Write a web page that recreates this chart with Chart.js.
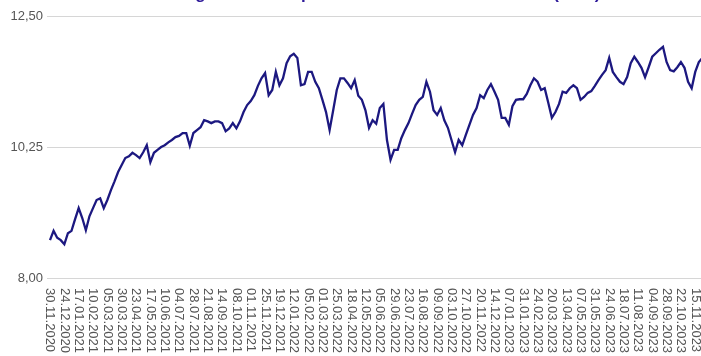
<!DOCTYPE html>
<html>
<head>
<meta charset="utf-8">
<script src="https://cdn.jsdelivr.net/npm/chart.js"></script>
<style>
  html, body { margin: 0; padding: 0; background: #fff; overflow: hidden; }
  #wrap { position: absolute; left: 0; top: -16px; width: 706px; height: 390px; }
</style>
</head>
<body>
<div id="wrap"><canvas id="myChart"></canvas></div>
<script>
// Anteilspreis (EUR), one value every 6 days from 30.11.2020
const prices = [
  8.65, 8.81, 8.69, 8.65, 8.58, 8.77, 8.81, 9.01, 9.20, 9.03,
  8.82, 9.06, 9.20, 9.34, 9.37, 9.20, 9.34, 9.51, 9.66, 9.82,
  9.94, 10.06, 10.09, 10.15, 10.11, 10.06, 10.16, 10.28, 9.99, 10.15,
  10.20, 10.25, 10.28, 10.33, 10.37, 10.42, 10.44, 10.49, 10.49, 10.27,
  10.49, 10.54, 10.59, 10.71, 10.69, 10.66, 10.69, 10.69, 10.66, 10.52,
  10.57, 10.66, 10.57, 10.69, 10.85, 10.97, 11.04, 11.14, 11.30, 11.43,
  11.52, 11.14, 11.23, 11.54, 11.31, 11.43, 11.69, 11.81, 11.85, 11.78,
  11.31, 11.33, 11.54, 11.54, 11.37, 11.26, 11.06, 10.85, 10.54, 10.88,
  11.23, 11.43, 11.43, 11.35, 11.26, 11.40, 11.13, 11.06, 10.88, 10.58,
  10.71, 10.65, 10.92, 10.99, 10.37, 10.03, 10.20, 10.20, 10.40, 10.54,
  10.66, 10.82, 10.97, 11.06, 11.11, 11.37, 11.20, 10.88, 10.80, 10.92,
  10.71, 10.58, 10.37, 10.16, 10.37, 10.28, 10.46, 10.63, 10.80, 10.92,
  11.14, 11.09, 11.23, 11.33, 11.20, 11.06, 10.75, 10.75, 10.63, 10.95,
  11.06, 11.07, 11.07, 11.16, 11.31, 11.43, 11.37, 11.23, 11.26, 11.01,
  10.75, 10.85, 10.99, 11.20, 11.18, 11.26, 11.31, 11.26, 11.06, 11.11,
  11.18, 11.21, 11.30, 11.40, 11.49, 11.57, 11.78, 11.54, 11.45, 11.37,
  11.33, 11.45, 11.69, 11.80, 11.71, 11.61, 11.45, 11.62, 11.80, 11.86,
  11.92, 11.97, 11.71, 11.57, 11.55, 11.62, 11.71, 11.61, 11.37, 11.26,
  11.54, 11.71, 11.78, 11.78
];

// date labels shown under the x axis (one every 4th point)
const tickLabels = [
  '30.11.2020', '24.12.2020', '17.01.2021', '10.02.2021', '05.03.2021', '30.03.2021',
  '23.04.2021', '17.05.2021', '10.06.2021', '04.07.2021', '28.07.2021', '21.08.2021',
  '14.09.2021', '08.10.2021', '01.11.2021', '25.11.2021', '19.12.2021', '12.01.2022',
  '05.02.2022', '01.03.2022', '25.03.2022', '18.04.2022', '12.05.2022', '05.06.2022',
  '29.06.2022', '23.07.2022', '16.08.2022', '09.09.2022', '03.10.2022', '27.10.2022',
  '20.11.2022', '14.12.2022', '07.01.2023', '31.01.2023', '24.02.2023', '20.03.2023',
  '13.04.2023', '07.05.2023', '31.05.2023', '24.06.2023', '18.07.2023', '11.08.2023',
  '04.09.2023', '28.09.2023', '22.10.2023', '15.11.2023'
];
const labelEvery = 4;

const yMin = 8.0;
const yMax = 12.5;
const yStep = 2.25;

const labels = prices.map((p, i) => i);

// draws the date labels turned clockwise (read top to bottom)
const dateLabels = {
  id: 'dateLabels',
  afterDraw(chart) {
    const ctx = chart.ctx;
    const x = chart.scales.x;
    const area = chart.chartArea;
    ctx.save();
    ctx.font = '13px "Liberation Sans", Arial, sans-serif';
    ctx.fillStyle = '#555555';
    ctx.textAlign = 'left';
    ctx.textBaseline = 'middle';
    tickLabels.forEach((txt, k) => {
      const px = x.getPixelForValue(k * labelEvery);
      ctx.save();
      ctx.translate(px, area.bottom + 10);
      ctx.rotate(Math.PI / 2);
      ctx.fillText(txt, 0, 0);
      ctx.restore();
    });
    ctx.restore();
  }
};

const ctx = document.getElementById('myChart');
new Chart(ctx, {
  type: 'line',
  data: {
    labels: labels,
    datasets: [{
      label: 'Anteilspreis',
      data: prices,
      borderColor: '#1c1880',
      backgroundColor: '#1c1880',
      borderWidth: 2.3,
      pointRadius: 0,
      tension: 0,
      fill: false
    }]
  },
  options: {
    responsive: true,
    maintainAspectRatio: false,
    animation: false,
    layout: { padding: 0 },
    scales: {
      x: {
        type: 'category',
        offset: false,
        grid: { display: false },
        border: { display: false },
        ticks: { display: false },
        afterFit: (scale) => { scale.height = 96; }
      },
      y: {
        min: yMin,
        max: yMax,
        grid: { color: '#d6d6d6', lineWidth: 1, tickLength: 3 },
        border: { display: false },
        ticks: {
          stepSize: yStep,
          padding: 4,
          color: '#555555',
          font: { family: '"Liberation Sans", Arial, sans-serif', size: 13 },
          callback: (v) => v.toFixed(2).replace('.', ',')
        },
        afterFit: (scale) => { scale.width = 50; }
      }
    },
    plugins: {
      legend: { display: false },
      tooltip: { enabled: false },
      title: {
        display: true,
        text: 'Entwicklung des Anteilspreises in den letzten 3 Jahren (EUR)',
        color: '#2e1a9a',
        font: { family: '"Liberation Sans", Arial, sans-serif', size: 17, weight: 'bold' },
        padding: { top: 0, bottom: 11.6 }
      }
    }
  },
  plugins: [dateLabels]
});
</script>
</body>
</html>
